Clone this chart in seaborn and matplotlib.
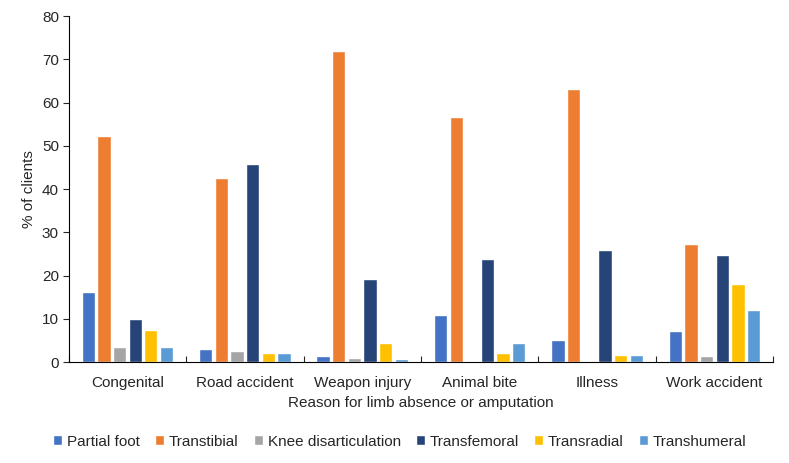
import matplotlib.pyplot as plt
import seaborn as sns
import pandas as pd
import numpy as np

reasons = ['Congenital', 'Road accident', 'Weapon injury', 'Animal bite', 'Illness', 'Work accident']
levels = ['Partial foot', 'Transtibial', 'Knee disarticulation', 'Transfemoral', 'Transradial', 'Transhumeral']

partial_foot = [16.2, 3.0, 1.5, 10.9, 5.1, 7.3]
transtibial = [52.3, 42.5, 71.9, 56.6, 63.2, 27.4]
knee_disart = [3.4, 2.5, 0.9, 0.0, 0.0, 1.3]
transfemoral = [9.9, 45.9, 19.3, 23.8, 25.9, 24.7]
transradial = [7.4, 2.2, 4.4, 2.2, 1.6, 18.0]
transhumeral = [3.4, 2.2, 0.8, 4.3, 1.6, 12.0]

colors = ['#4472C4', '#ED7D31', '#A5A5A5', '#264478', '#FFC000', '#5B9BD5']

series = [partial_foot, transtibial, knee_disart, transfemoral, transradial, transhumeral]
rows = []
for lvl, vals in zip(levels, series):
    for r, v in zip(reasons, vals):
        rows.append({'reason': r, 'level': lvl, 'pct': v})
df = pd.DataFrame(rows)

sns.set_style('white')
plt.rcParams['font.family'] = ['Liberation Sans', 'DejaVu Sans']
plt.rcParams['font.size'] = 11

fig = plt.figure(figsize=(7.89, 4.63), dpi=100)
ax = fig.add_axes([0.087, 0.218, 0.893, 0.747])
sns.barplot(data=df, x='reason', y='pct', hue='level', order=reasons, hue_order=levels,
            palette=colors, saturation=1, width=0.8, gap=0.15, errorbar=None, ax=ax, legend=True)

ax.set_ylim(0, 80)
ax.set_xlim(-0.5, len(reasons) - 0.5)
ax.set_yticks(range(0, 81, 10))
ax.set_ylabel('% of clients', fontsize=11)
ax.set_xlabel('Reason for limb absence or amputation', fontsize=11, labelpad=4)
ax.tick_params(axis='y', which='major', direction='out', length=4, width=0.8, labelsize=11, pad=3, left=True)
ax.tick_params(axis='x', which='major', length=0, labelsize=11, pad=10)
ax.set_xticks(np.arange(-0.5, len(reasons)), minor=True)
ax.tick_params(axis='x', which='minor', direction='in', length=4, width=0.8, bottom=True)
for s in ['top', 'right']:
    ax.spines[s].set_visible(False)
for s in ['left', 'bottom']:
    ax.spines[s].set_color('black')
    ax.spines[s].set_linewidth(0.8)

ax.legend(loc='upper center', bbox_to_anchor=(0.47, -0.17), ncol=6, frameon=False,
          handlelength=0.6, handleheight=0.6, handletextpad=0.3, columnspacing=1.0, fontsize=11)

fig.savefig('out.png', dpi=100)
